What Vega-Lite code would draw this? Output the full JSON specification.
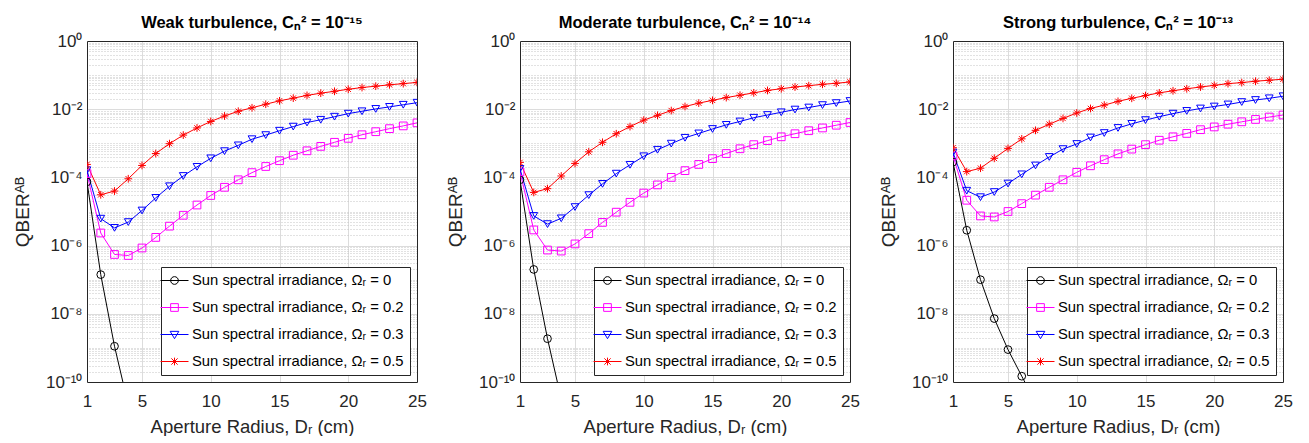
{
"$schema": "https://vega.github.io/schema/vega-lite/v6.json",
"padding": {"left": 13, "top": 14, "right": 5, "bottom": 0},
"bounds": "flush",
"spacing": 103,
"resolve": {"scale": {"color": "independent", "shape": "independent"}, "legend": {"color": "independent", "shape": "independent"}},
"config": {"font": "Liberation Sans", "view": {"stroke": null}, "axis": {"labelColor": "#262626", "titleColor": "#262626", "domainWidth": 1, "domainColor": "#262626"}},
"datasets": {"qber": [
{"panel":"Weak","omega":"0","x":1,"qber":7.41e-5},{"panel":"Weak","omega":"0","x":2,"qber":1.41e-7},{"panel":"Weak","omega":"0","x":3,"qber":1.12e-9},{"panel":"Weak","omega":"0","x":4,"qber":2.14e-11},
{"panel":"Weak","omega":"0.2","x":1,"qber":1.29e-4},{"panel":"Weak","omega":"0.2","x":2,"qber":2.34e-6},{"panel":"Weak","omega":"0.2","x":3,"qber":5.50e-7},{"panel":"Weak","omega":"0.2","x":4,"qber":5.13e-7},{"panel":"Weak","omega":"0.2","x":5,"qber":8.51e-7},{"panel":"Weak","omega":"0.2","x":6,"qber":1.74e-6},{"panel":"Weak","omega":"0.2","x":7,"qber":3.72e-6},{"panel":"Weak","omega":"0.2","x":8,"qber":7.76e-6},{"panel":"Weak","omega":"0.2","x":9,"qber":1.55e-5},{"panel":"Weak","omega":"0.2","x":10,"qber":2.95e-5},{"panel":"Weak","omega":"0.2","x":11,"qber":5.13e-5},{"panel":"Weak","omega":"0.2","x":12,"qber":8.51e-5},{"panel":"Weak","omega":"0.2","x":13,"qber":1.38e-4},{"panel":"Weak","omega":"0.2","x":14,"qber":2.09e-4},{"panel":"Weak","omega":"0.2","x":15,"qber":3.09e-4},{"panel":"Weak","omega":"0.2","x":16,"qber":4.47e-4},{"panel":"Weak","omega":"0.2","x":17,"qber":6.03e-4},{"panel":"Weak","omega":"0.2","x":18,"qber":8.13e-4},{"panel":"Weak","omega":"0.2","x":19,"qber":1.07e-3},{"panel":"Weak","omega":"0.2","x":20,"qber":1.40e-3},{"panel":"Weak","omega":"0.2","x":21,"qber":1.78e-3},{"panel":"Weak","omega":"0.2","x":22,"qber":2.19e-3},{"panel":"Weak","omega":"0.2","x":23,"qber":2.69e-3},{"panel":"Weak","omega":"0.2","x":24,"qber":3.24e-3},{"panel":"Weak","omega":"0.2","x":25,"qber":3.98e-3},
{"panel":"Weak","omega":"0.3","x":1,"qber":1.62e-4},{"panel":"Weak","omega":"0.3","x":2,"qber":6.17e-6},{"panel":"Weak","omega":"0.3","x":3,"qber":3.31e-6},{"panel":"Weak","omega":"0.3","x":4,"qber":4.90e-6},{"panel":"Weak","omega":"0.3","x":5,"qber":1.07e-5},{"panel":"Weak","omega":"0.3","x":6,"qber":2.51e-5},{"panel":"Weak","omega":"0.3","x":7,"qber":5.50e-5},{"panel":"Weak","omega":"0.3","x":8,"qber":1.10e-4},{"panel":"Weak","omega":"0.3","x":9,"qber":2.04e-4},{"panel":"Weak","omega":"0.3","x":10,"qber":3.63e-4},{"panel":"Weak","omega":"0.3","x":11,"qber":5.89e-4},{"panel":"Weak","omega":"0.3","x":12,"qber":8.71e-4},{"panel":"Weak","omega":"0.3","x":13,"qber":1.32e-3},{"panel":"Weak","omega":"0.3","x":14,"qber":1.74e-3},{"panel":"Weak","omega":"0.3","x":15,"qber":2.34e-3},{"panel":"Weak","omega":"0.3","x":16,"qber":3.09e-3},{"panel":"Weak","omega":"0.3","x":17,"qber":4.07e-3},{"panel":"Weak","omega":"0.3","x":18,"qber":4.90e-3},{"panel":"Weak","omega":"0.3","x":19,"qber":6.03e-3},{"panel":"Weak","omega":"0.3","x":20,"qber":7.41e-3},{"panel":"Weak","omega":"0.3","x":21,"qber":8.71e-3},{"panel":"Weak","omega":"0.3","x":22,"qber":1.02e-2},{"panel":"Weak","omega":"0.3","x":23,"qber":1.17e-2},{"panel":"Weak","omega":"0.3","x":24,"qber":1.35e-2},{"panel":"Weak","omega":"0.3","x":25,"qber":1.55e-2},
{"panel":"Weak","omega":"0.5","x":1,"qber":2.40e-4},{"panel":"Weak","omega":"0.5","x":2,"qber":3.09e-5},{"panel":"Weak","omega":"0.5","x":3,"qber":3.98e-5},{"panel":"Weak","omega":"0.5","x":4,"qber":9.12e-5},{"panel":"Weak","omega":"0.5","x":5,"qber":2.24e-4},{"panel":"Weak","omega":"0.5","x":6,"qber":5.01e-4},{"panel":"Weak","omega":"0.5","x":7,"qber":9.77e-4},{"panel":"Weak","omega":"0.5","x":8,"qber":1.74e-3},{"panel":"Weak","omega":"0.5","x":9,"qber":2.82e-3},{"panel":"Weak","omega":"0.5","x":10,"qber":4.37e-3},{"panel":"Weak","omega":"0.5","x":11,"qber":6.31e-3},{"panel":"Weak","omega":"0.5","x":12,"qber":8.71e-3},{"panel":"Weak","omega":"0.5","x":13,"qber":1.10e-2},{"panel":"Weak","omega":"0.5","x":14,"qber":1.40e-2},{"panel":"Weak","omega":"0.5","x":15,"qber":1.76e-2},{"panel":"Weak","omega":"0.5","x":16,"qber":2.11e-2},{"panel":"Weak","omega":"0.5","x":17,"qber":2.54e-2},{"panel":"Weak","omega":"0.5","x":18,"qber":2.95e-2},{"panel":"Weak","omega":"0.5","x":19,"qber":3.35e-2},{"panel":"Weak","omega":"0.5","x":20,"qber":3.85e-2},{"panel":"Weak","omega":"0.5","x":21,"qber":4.32e-2},{"panel":"Weak","omega":"0.5","x":22,"qber":4.73e-2},{"panel":"Weak","omega":"0.5","x":23,"qber":5.19e-2},{"panel":"Weak","omega":"0.5","x":24,"qber":5.62e-2},{"panel":"Weak","omega":"0.5","x":25,"qber":6.10e-2},
{"panel":"Moderate","omega":"0","x":1,"qber":8.51e-5},{"panel":"Moderate","omega":"0","x":2,"qber":2.00e-7},{"panel":"Moderate","omega":"0","x":3,"qber":1.86e-9},{"panel":"Moderate","omega":"0","x":4,"qber":3.16e-11},
{"panel":"Moderate","omega":"0.2","x":1,"qber":1.45e-4},{"panel":"Moderate","omega":"0.2","x":2,"qber":2.88e-6},{"panel":"Moderate","omega":"0.2","x":3,"qber":7.41e-7},{"panel":"Moderate","omega":"0.2","x":4,"qber":6.92e-7},{"panel":"Moderate","omega":"0.2","x":5,"qber":1.12e-6},{"panel":"Moderate","omega":"0.2","x":6,"qber":2.24e-6},{"panel":"Moderate","omega":"0.2","x":7,"qber":4.79e-6},{"panel":"Moderate","omega":"0.2","x":8,"qber":9.55e-6},{"panel":"Moderate","omega":"0.2","x":9,"qber":1.86e-5},{"panel":"Moderate","omega":"0.2","x":10,"qber":3.47e-5},{"panel":"Moderate","omega":"0.2","x":11,"qber":6.03e-5},{"panel":"Moderate","omega":"0.2","x":12,"qber":1.00e-4},{"panel":"Moderate","omega":"0.2","x":13,"qber":1.58e-4},{"panel":"Moderate","omega":"0.2","x":14,"qber":2.40e-4},{"panel":"Moderate","omega":"0.2","x":15,"qber":3.55e-4},{"panel":"Moderate","omega":"0.2","x":16,"qber":5.01e-4},{"panel":"Moderate","omega":"0.2","x":17,"qber":6.92e-4},{"panel":"Moderate","omega":"0.2","x":18,"qber":9.12e-4},{"panel":"Moderate","omega":"0.2","x":19,"qber":1.20e-3},{"panel":"Moderate","omega":"0.2","x":20,"qber":1.55e-3},{"panel":"Moderate","omega":"0.2","x":21,"qber":1.91e-3},{"panel":"Moderate","omega":"0.2","x":22,"qber":2.34e-3},{"panel":"Moderate","omega":"0.2","x":23,"qber":2.82e-3},{"panel":"Moderate","omega":"0.2","x":24,"qber":3.39e-3},{"panel":"Moderate","omega":"0.2","x":25,"qber":4.07e-3},
{"panel":"Moderate","omega":"0.3","x":1,"qber":1.78e-4},{"panel":"Moderate","omega":"0.3","x":2,"qber":7.41e-6},{"panel":"Moderate","omega":"0.3","x":3,"qber":4.27e-6},{"panel":"Moderate","omega":"0.3","x":4,"qber":6.31e-6},{"panel":"Moderate","omega":"0.3","x":5,"qber":1.35e-5},{"panel":"Moderate","omega":"0.3","x":6,"qber":3.02e-5},{"panel":"Moderate","omega":"0.3","x":7,"qber":6.46e-5},{"panel":"Moderate","omega":"0.3","x":8,"qber":1.29e-4},{"panel":"Moderate","omega":"0.3","x":9,"qber":2.34e-4},{"panel":"Moderate","omega":"0.3","x":10,"qber":4.17e-4},{"panel":"Moderate","omega":"0.3","x":11,"qber":6.46e-4},{"panel":"Moderate","omega":"0.3","x":12,"qber":9.77e-4},{"panel":"Moderate","omega":"0.3","x":13,"qber":1.45e-3},{"panel":"Moderate","omega":"0.3","x":14,"qber":1.95e-3},{"panel":"Moderate","omega":"0.3","x":15,"qber":2.63e-3},{"panel":"Moderate","omega":"0.3","x":16,"qber":3.47e-3},{"panel":"Moderate","omega":"0.3","x":17,"qber":4.37e-3},{"panel":"Moderate","omega":"0.3","x":18,"qber":5.62e-3},{"panel":"Moderate","omega":"0.3","x":19,"qber":6.76e-3},{"panel":"Moderate","omega":"0.3","x":20,"qber":8.13e-3},{"panel":"Moderate","omega":"0.3","x":21,"qber":9.77e-3},{"panel":"Moderate","omega":"0.3","x":22,"qber":1.12e-2},{"panel":"Moderate","omega":"0.3","x":23,"qber":1.32e-2},{"panel":"Moderate","omega":"0.3","x":24,"qber":1.51e-2},{"panel":"Moderate","omega":"0.3","x":25,"qber":1.74e-2},
{"panel":"Moderate","omega":"0.5","x":1,"qber":2.75e-4},{"panel":"Moderate","omega":"0.5","x":2,"qber":3.63e-5},{"panel":"Moderate","omega":"0.5","x":3,"qber":4.68e-5},{"panel":"Moderate","omega":"0.5","x":4,"qber":1.10e-4},{"panel":"Moderate","omega":"0.5","x":5,"qber":2.57e-4},{"panel":"Moderate","omega":"0.5","x":6,"qber":5.62e-4},{"panel":"Moderate","omega":"0.5","x":7,"qber":1.07e-3},{"panel":"Moderate","omega":"0.5","x":8,"qber":1.91e-3},{"panel":"Moderate","omega":"0.5","x":9,"qber":3.09e-3},{"panel":"Moderate","omega":"0.5","x":10,"qber":4.79e-3},{"panel":"Moderate","omega":"0.5","x":11,"qber":6.61e-3},{"panel":"Moderate","omega":"0.5","x":12,"qber":9.12e-3},{"panel":"Moderate","omega":"0.5","x":13,"qber":1.20e-2},{"panel":"Moderate","omega":"0.5","x":14,"qber":1.51e-2},{"panel":"Moderate","omega":"0.5","x":15,"qber":1.82e-2},{"panel":"Moderate","omega":"0.5","x":16,"qber":2.19e-2},{"panel":"Moderate","omega":"0.5","x":17,"qber":2.57e-2},{"panel":"Moderate","omega":"0.5","x":18,"qber":3.02e-2},{"panel":"Moderate","omega":"0.5","x":19,"qber":3.55e-2},{"panel":"Moderate","omega":"0.5","x":20,"qber":3.98e-2},{"panel":"Moderate","omega":"0.5","x":21,"qber":4.47e-2},{"panel":"Moderate","omega":"0.5","x":22,"qber":4.90e-2},{"panel":"Moderate","omega":"0.5","x":23,"qber":5.37e-2},{"panel":"Moderate","omega":"0.5","x":24,"qber":5.75e-2},{"panel":"Moderate","omega":"0.5","x":25,"qber":6.31e-2},
{"panel":"Strong","omega":"0","x":1,"qber":2.82e-4},{"panel":"Strong","omega":"0","x":2,"qber":2.82e-6},{"panel":"Strong","omega":"0","x":3,"qber":1.00e-7},{"panel":"Strong","omega":"0","x":4,"qber":7.24e-9},{"panel":"Strong","omega":"0","x":5,"qber":8.91e-10},{"panel":"Strong","omega":"0","x":6,"qber":1.48e-10},{"panel":"Strong","omega":"0","x":7,"qber":2.51e-11},
{"panel":"Strong","omega":"0.2","x":1,"qber":4.27e-4},{"panel":"Strong","omega":"0.2","x":2,"qber":2.14e-5},{"panel":"Strong","omega":"0.2","x":3,"qber":7.41e-6},{"panel":"Strong","omega":"0.2","x":4,"qber":6.92e-6},{"panel":"Strong","omega":"0.2","x":5,"qber":1.00e-5},{"panel":"Strong","omega":"0.2","x":6,"qber":1.70e-5},{"panel":"Strong","omega":"0.2","x":7,"qber":3.02e-5},{"panel":"Strong","omega":"0.2","x":8,"qber":5.13e-5},{"panel":"Strong","omega":"0.2","x":9,"qber":8.51e-5},{"panel":"Strong","omega":"0.2","x":10,"qber":1.41e-4},{"panel":"Strong","omega":"0.2","x":11,"qber":2.19e-4},{"panel":"Strong","omega":"0.2","x":12,"qber":3.31e-4},{"panel":"Strong","omega":"0.2","x":13,"qber":4.90e-4},{"panel":"Strong","omega":"0.2","x":14,"qber":6.76e-4},{"panel":"Strong","omega":"0.2","x":15,"qber":9.12e-4},{"panel":"Strong","omega":"0.2","x":16,"qber":1.23e-3},{"panel":"Strong","omega":"0.2","x":17,"qber":1.55e-3},{"panel":"Strong","omega":"0.2","x":18,"qber":1.95e-3},{"panel":"Strong","omega":"0.2","x":19,"qber":2.51e-3},{"panel":"Strong","omega":"0.2","x":20,"qber":3.02e-3},{"panel":"Strong","omega":"0.2","x":21,"qber":3.63e-3},{"panel":"Strong","omega":"0.2","x":22,"qber":4.27e-3},{"panel":"Strong","omega":"0.2","x":23,"qber":5.01e-3},{"panel":"Strong","omega":"0.2","x":24,"qber":5.89e-3},{"panel":"Strong","omega":"0.2","x":25,"qber":6.76e-3},
{"panel":"Strong","omega":"0.3","x":1,"qber":5.37e-4},{"panel":"Strong","omega":"0.3","x":2,"qber":4.07e-5},{"panel":"Strong","omega":"0.3","x":3,"qber":2.63e-5},{"panel":"Strong","omega":"0.3","x":4,"qber":3.72e-5},{"panel":"Strong","omega":"0.3","x":5,"qber":6.61e-5},{"panel":"Strong","omega":"0.3","x":6,"qber":1.23e-4},{"panel":"Strong","omega":"0.3","x":7,"qber":2.24e-4},{"panel":"Strong","omega":"0.3","x":8,"qber":3.98e-4},{"panel":"Strong","omega":"0.3","x":9,"qber":6.76e-4},{"panel":"Strong","omega":"0.3","x":10,"qber":9.55e-4},{"panel":"Strong","omega":"0.3","x":11,"qber":1.48e-3},{"panel":"Strong","omega":"0.3","x":12,"qber":2.00e-3},{"panel":"Strong","omega":"0.3","x":13,"qber":2.82e-3},{"panel":"Strong","omega":"0.3","x":14,"qber":3.72e-3},{"panel":"Strong","omega":"0.3","x":15,"qber":4.79e-3},{"panel":"Strong","omega":"0.3","x":16,"qber":6.03e-3},{"panel":"Strong","omega":"0.3","x":17,"qber":7.41e-3},{"panel":"Strong","omega":"0.3","x":18,"qber":8.91e-3},{"panel":"Strong","omega":"0.3","x":19,"qber":1.05e-2},{"panel":"Strong","omega":"0.3","x":20,"qber":1.20e-2},{"panel":"Strong","omega":"0.3","x":21,"qber":1.38e-2},{"panel":"Strong","omega":"0.3","x":22,"qber":1.62e-2},{"panel":"Strong","omega":"0.3","x":23,"qber":1.86e-2},{"panel":"Strong","omega":"0.3","x":24,"qber":2.09e-2},{"panel":"Strong","omega":"0.3","x":25,"qber":2.40e-2},
{"panel":"Strong","omega":"0.5","x":1,"qber":7.41e-4},{"panel":"Strong","omega":"0.5","x":2,"qber":1.48e-4},{"panel":"Strong","omega":"0.5","x":3,"qber":1.86e-4},{"panel":"Strong","omega":"0.5","x":4,"qber":3.63e-4},{"panel":"Strong","omega":"0.5","x":5,"qber":7.08e-4},{"panel":"Strong","omega":"0.5","x":6,"qber":1.35e-3},{"panel":"Strong","omega":"0.5","x":7,"qber":2.40e-3},{"panel":"Strong","omega":"0.5","x":8,"qber":3.63e-3},{"panel":"Strong","omega":"0.5","x":9,"qber":5.37e-3},{"panel":"Strong","omega":"0.5","x":10,"qber":7.76e-3},{"panel":"Strong","omega":"0.5","x":11,"qber":1.05e-2},{"panel":"Strong","omega":"0.5","x":12,"qber":1.32e-2},{"panel":"Strong","omega":"0.5","x":13,"qber":1.70e-2},{"panel":"Strong","omega":"0.5","x":14,"qber":2.09e-2},{"panel":"Strong","omega":"0.5","x":15,"qber":2.51e-2},{"panel":"Strong","omega":"0.5","x":16,"qber":3.02e-2},{"panel":"Strong","omega":"0.5","x":17,"qber":3.47e-2},{"panel":"Strong","omega":"0.5","x":18,"qber":3.98e-2},{"panel":"Strong","omega":"0.5","x":19,"qber":4.47e-2},{"panel":"Strong","omega":"0.5","x":20,"qber":5.01e-2},{"panel":"Strong","omega":"0.5","x":21,"qber":5.62e-2},{"panel":"Strong","omega":"0.5","x":22,"qber":6.03e-2},{"panel":"Strong","omega":"0.5","x":23,"qber":6.61e-2},{"panel":"Strong","omega":"0.5","x":24,"qber":7.08e-2},{"panel":"Strong","omega":"0.5","x":25,"qber":7.59e-2}
]},
"hconcat": [
{"width": 330, "height": 341, "data": {"name": "qber"}, "transform": [{"filter": "datum.panel === 'Weak'"}],
 "title": {"text": "Weak turbulence, Cₙ² = 10⁻¹⁵", "fontSize": 16.5, "fontWeight": "bold", "color": "black", "anchor": "middle", "baseline": "alphabetic", "offset": 14, "dy": 26, "frame": "group"},
 "layer": [
  {"mark": {"type": "line", "clip": true, "strokeWidth": 1},
   "encoding": {
    "x": {"field": "x", "type": "quantitative", "scale": {"domain": [1, 25], "nice": false, "zero": false}, "axis": {"values": [1, 5, 10, 15, 20, 25], "title": "Aperture Radius, Dᵣ (cm)", "grid": false, "ticks": false, "labelFlush": false, "labelFontSize": 17, "labelPadding": 11, "titleFontSize": 18.5, "titleFontWeight": "normal", "titleBaseline": "alphabetic", "titleY": 50}},
    "y": {"field": "qber", "type": "quantitative", "scale": {"type": "log", "domain": [1e-10, 1], "nice": false}, "axis": {"values": [1, 0.01, 0.0001, 0.000001, 0.00000001, 1e-10], "labelExpr": "datum.value === 1 ? '10⁰' : datum.value === 0.01 ? '10⁻²' : datum.value === 0.0001 ? '10⁻⁴' : datum.value === 0.000001 ? '10⁻⁶' : datum.value === 0.00000001 ? '10⁻⁸' : '10⁻¹⁰'", "title": "QBERᴬᴮ", "grid": false, "ticks": false, "labelFontSize": 17, "labelPadding": 5, "titleFontSize": 19, "titleFontWeight": "normal", "titleBaseline": "alphabetic", "titleX": -59}},
    "color": {"field": "omega", "type": "nominal", "scale": {"domain": ["0", "0.2", "0.3", "0.5"], "range": ["#000000", "#ff00ff", "#0000ff", "#ff0000"]}, "legend": null}
   }},
  {"mark": {"type": "point", "clip": true, "filled": false, "size": 60, "opacity": 1},
   "encoding": {
    "x": {"field": "x", "type": "quantitative", "scale": {"domain": [1, 25], "nice": false, "zero": false}, "axis": {"orient": "top", "values": [5, 10, 15, 20], "labels": false, "ticks": false, "title": null, "grid": true, "gridColor": "#dcdcdc"}},
    "y": {"field": "qber", "type": "quantitative", "scale": {"type": "log", "domain": [1e-10, 1], "nice": false}, "axis": {"orient": "right", "values": [2e-10,3e-10,4e-10,5e-10,6e-10,7e-10,8e-10,9e-10,1e-9,2e-9,3e-9,4e-9,5e-9,6e-9,7e-9,8e-9,9e-9,1e-8,2e-8,3e-8,4e-8,5e-8,6e-8,7e-8,8e-8,9e-8,1e-7,2e-7,3e-7,4e-7,5e-7,6e-7,7e-7,8e-7,9e-7,1e-6,2e-6,3e-6,4e-6,5e-6,6e-6,7e-6,8e-6,9e-6,1e-5,2e-5,3e-5,4e-5,5e-5,6e-5,7e-5,8e-5,9e-5,1e-4,2e-4,3e-4,4e-4,5e-4,6e-4,7e-4,8e-4,9e-4,1e-3,2e-3,3e-3,4e-3,5e-3,6e-3,7e-3,8e-3,9e-3,1e-2,2e-2,3e-2,4e-2,5e-2,6e-2,7e-2,8e-2,9e-2,1e-1,2e-1,3e-1,4e-1,5e-1,6e-1,7e-1,8e-1,9e-1], "labels": false, "ticks": false, "title": null, "grid": true, "gridColor": {"condition": {"test": "indexof([0.01, 0.0001, 0.000001, 0.00000001], datum.value) >= 0", "value": "#dcdcdc"}, "value": "#c4c4c4"}, "gridDash": {"condition": {"test": "indexof([0.01, 0.0001, 0.000001, 0.00000001], datum.value) >= 0", "value": []}, "value": [1, 2]}}},
    "color": {"field": "omega", "type": "nominal", "scale": {"domain": ["0", "0.2", "0.3", "0.5"], "range": ["#000000", "#ff00ff", "#0000ff", "#ff0000"]}, "legend": null},
    "shape": {"field": "omega", "type": "nominal", "scale": {"domain": ["0", "0.2", "0.3", "0.5"], "range": ["circle", "square", "triangle-down", "M-1,0H1M0,-1V1M-0.7,-0.7L0.7,0.7M-0.7,0.7L0.7,-0.7"]}, "legend": null},
    "strokeWidth": {"field": "omega", "type": "nominal", "scale": {"domain": ["0", "0.2", "0.3", "0.5"], "range": [1, 1, 1, 1.6]}, "legend": null}
   }},
  {"transform": [{"filter": "datum.x === 1"}],
   "mark": {"type": "point", "filled": false, "size": 196, "strokeWidth": 1, "opacity": 0},
   "encoding": {
    "color": {"field": "omega", "type": "nominal", "scale": {"domain": ["0", "0.2", "0.3", "0.5"], "range": ["#000000", "#ff00ff", "#0000ff", "#ff0000"]}, "legend": {"title": null, "orient": "bottom-right", "offset": 7, "padding": 6, "strokeColor": "#262626", "fillColor": "white", "labelFontSize": 14.8, "labelColor": "black", "labelLimit": 400, "symbolSize": 196, "symbolStrokeWidth": 1, "symbolOpacity": 1, "rowPadding": 11, "labelOffset": 10, "labelExpr": "'Sun spectral irradiance, Ωᵣ = ' + datum.label"}},
    "shape": {"field": "omega", "type": "nominal", "scale": {"domain": ["0", "0.2", "0.3", "0.5"], "range": ["M-2,0H2M0.55,0A0.55,0.55,0,1,1,-0.55,0A0.55,0.55,0,1,1,0.55,0", "M-2,0H2M-0.55,-0.55H0.55V0.55H-0.55Z", "M-2,0H2M-0.62,-0.45H0.62L0,0.6Z", "M-2,0H2M0,-0.55V0.55M-0.45,-0.45L0.45,0.45M-0.45,0.45L0.45,-0.45"]}, "legend": {"title": null, "orient": "bottom-right", "offset": 7, "padding": 6, "strokeColor": "#262626", "fillColor": "white", "labelFontSize": 14.8, "labelColor": "black", "labelLimit": 400, "symbolSize": 196, "symbolStrokeWidth": 1, "symbolOpacity": 1, "rowPadding": 11, "labelOffset": 10, "labelExpr": "'Sun spectral irradiance, Ωᵣ = ' + datum.label"}}
   }}
 ],
 "resolve": {"scale": {"color": "independent", "shape": "independent"}, "axis": {"x": "independent", "y": "independent"}}
},
{"width": 330, "height": 341, "data": {"name": "qber"}, "transform": [{"filter": "datum.panel === 'Moderate'"}],
 "title": {"text": "Moderate turbulence, Cₙ² = 10⁻¹⁴", "fontSize": 16.5, "fontWeight": "bold", "color": "black", "anchor": "middle", "baseline": "alphabetic", "offset": 14, "dy": 26, "frame": "group"},
 "layer": [
  {"mark": {"type": "line", "clip": true, "strokeWidth": 1},
   "encoding": {
    "x": {"field": "x", "type": "quantitative", "scale": {"domain": [1, 25], "nice": false, "zero": false}, "axis": {"values": [1, 5, 10, 15, 20, 25], "title": "Aperture Radius, Dᵣ (cm)", "grid": false, "ticks": false, "labelFlush": false, "labelFontSize": 17, "labelPadding": 11, "titleFontSize": 18.5, "titleFontWeight": "normal", "titleBaseline": "alphabetic", "titleY": 50}},
    "y": {"field": "qber", "type": "quantitative", "scale": {"type": "log", "domain": [1e-10, 1], "nice": false}, "axis": {"values": [1, 0.01, 0.0001, 0.000001, 0.00000001, 1e-10], "labelExpr": "datum.value === 1 ? '10⁰' : datum.value === 0.01 ? '10⁻²' : datum.value === 0.0001 ? '10⁻⁴' : datum.value === 0.000001 ? '10⁻⁶' : datum.value === 0.00000001 ? '10⁻⁸' : '10⁻¹⁰'", "title": "QBERᴬᴮ", "grid": false, "ticks": false, "labelFontSize": 17, "labelPadding": 5, "titleFontSize": 19, "titleFontWeight": "normal", "titleBaseline": "alphabetic", "titleX": -59}},
    "color": {"field": "omega", "type": "nominal", "scale": {"domain": ["0", "0.2", "0.3", "0.5"], "range": ["#000000", "#ff00ff", "#0000ff", "#ff0000"]}, "legend": null}
   }},
  {"mark": {"type": "point", "clip": true, "filled": false, "size": 60, "opacity": 1},
   "encoding": {
    "x": {"field": "x", "type": "quantitative", "scale": {"domain": [1, 25], "nice": false, "zero": false}, "axis": {"orient": "top", "values": [5, 10, 15, 20], "labels": false, "ticks": false, "title": null, "grid": true, "gridColor": "#dcdcdc"}},
    "y": {"field": "qber", "type": "quantitative", "scale": {"type": "log", "domain": [1e-10, 1], "nice": false}, "axis": {"orient": "right", "values": [2e-10,3e-10,4e-10,5e-10,6e-10,7e-10,8e-10,9e-10,1e-9,2e-9,3e-9,4e-9,5e-9,6e-9,7e-9,8e-9,9e-9,1e-8,2e-8,3e-8,4e-8,5e-8,6e-8,7e-8,8e-8,9e-8,1e-7,2e-7,3e-7,4e-7,5e-7,6e-7,7e-7,8e-7,9e-7,1e-6,2e-6,3e-6,4e-6,5e-6,6e-6,7e-6,8e-6,9e-6,1e-5,2e-5,3e-5,4e-5,5e-5,6e-5,7e-5,8e-5,9e-5,1e-4,2e-4,3e-4,4e-4,5e-4,6e-4,7e-4,8e-4,9e-4,1e-3,2e-3,3e-3,4e-3,5e-3,6e-3,7e-3,8e-3,9e-3,1e-2,2e-2,3e-2,4e-2,5e-2,6e-2,7e-2,8e-2,9e-2,1e-1,2e-1,3e-1,4e-1,5e-1,6e-1,7e-1,8e-1,9e-1], "labels": false, "ticks": false, "title": null, "grid": true, "gridColor": {"condition": {"test": "indexof([0.01, 0.0001, 0.000001, 0.00000001], datum.value) >= 0", "value": "#dcdcdc"}, "value": "#c4c4c4"}, "gridDash": {"condition": {"test": "indexof([0.01, 0.0001, 0.000001, 0.00000001], datum.value) >= 0", "value": []}, "value": [1, 2]}}},
    "color": {"field": "omega", "type": "nominal", "scale": {"domain": ["0", "0.2", "0.3", "0.5"], "range": ["#000000", "#ff00ff", "#0000ff", "#ff0000"]}, "legend": null},
    "shape": {"field": "omega", "type": "nominal", "scale": {"domain": ["0", "0.2", "0.3", "0.5"], "range": ["circle", "square", "triangle-down", "M-1,0H1M0,-1V1M-0.7,-0.7L0.7,0.7M-0.7,0.7L0.7,-0.7"]}, "legend": null},
    "strokeWidth": {"field": "omega", "type": "nominal", "scale": {"domain": ["0", "0.2", "0.3", "0.5"], "range": [1, 1, 1, 1.6]}, "legend": null}
   }},
  {"transform": [{"filter": "datum.x === 1"}],
   "mark": {"type": "point", "filled": false, "size": 196, "strokeWidth": 1, "opacity": 0},
   "encoding": {
    "color": {"field": "omega", "type": "nominal", "scale": {"domain": ["0", "0.2", "0.3", "0.5"], "range": ["#000000", "#ff00ff", "#0000ff", "#ff0000"]}, "legend": {"title": null, "orient": "bottom-right", "offset": 7, "padding": 6, "strokeColor": "#262626", "fillColor": "white", "labelFontSize": 14.8, "labelColor": "black", "labelLimit": 400, "symbolSize": 196, "symbolStrokeWidth": 1, "symbolOpacity": 1, "rowPadding": 11, "labelOffset": 10, "labelExpr": "'Sun spectral irradiance, Ωᵣ = ' + datum.label"}},
    "shape": {"field": "omega", "type": "nominal", "scale": {"domain": ["0", "0.2", "0.3", "0.5"], "range": ["M-2,0H2M0.55,0A0.55,0.55,0,1,1,-0.55,0A0.55,0.55,0,1,1,0.55,0", "M-2,0H2M-0.55,-0.55H0.55V0.55H-0.55Z", "M-2,0H2M-0.62,-0.45H0.62L0,0.6Z", "M-2,0H2M0,-0.55V0.55M-0.45,-0.45L0.45,0.45M-0.45,0.45L0.45,-0.45"]}, "legend": {"title": null, "orient": "bottom-right", "offset": 7, "padding": 6, "strokeColor": "#262626", "fillColor": "white", "labelFontSize": 14.8, "labelColor": "black", "labelLimit": 400, "symbolSize": 196, "symbolStrokeWidth": 1, "symbolOpacity": 1, "rowPadding": 11, "labelOffset": 10, "labelExpr": "'Sun spectral irradiance, Ωᵣ = ' + datum.label"}}
   }}
 ],
 "resolve": {"scale": {"color": "independent", "shape": "independent"}, "axis": {"x": "independent", "y": "independent"}}
},
{"width": 330, "height": 341, "data": {"name": "qber"}, "transform": [{"filter": "datum.panel === 'Strong'"}],
 "title": {"text": "Strong turbulence, Cₙ² = 10⁻¹³", "fontSize": 16.5, "fontWeight": "bold", "color": "black", "anchor": "middle", "baseline": "alphabetic", "offset": 14, "dy": 26, "frame": "group"},
 "layer": [
  {"mark": {"type": "line", "clip": true, "strokeWidth": 1},
   "encoding": {
    "x": {"field": "x", "type": "quantitative", "scale": {"domain": [1, 25], "nice": false, "zero": false}, "axis": {"values": [1, 5, 10, 15, 20, 25], "title": "Aperture Radius, Dᵣ (cm)", "grid": false, "ticks": false, "labelFlush": false, "labelFontSize": 17, "labelPadding": 11, "titleFontSize": 18.5, "titleFontWeight": "normal", "titleBaseline": "alphabetic", "titleY": 50}},
    "y": {"field": "qber", "type": "quantitative", "scale": {"type": "log", "domain": [1e-10, 1], "nice": false}, "axis": {"values": [1, 0.01, 0.0001, 0.000001, 0.00000001, 1e-10], "labelExpr": "datum.value === 1 ? '10⁰' : datum.value === 0.01 ? '10⁻²' : datum.value === 0.0001 ? '10⁻⁴' : datum.value === 0.000001 ? '10⁻⁶' : datum.value === 0.00000001 ? '10⁻⁸' : '10⁻¹⁰'", "title": "QBERᴬᴮ", "grid": false, "ticks": false, "labelFontSize": 17, "labelPadding": 5, "titleFontSize": 19, "titleFontWeight": "normal", "titleBaseline": "alphabetic", "titleX": -59}},
    "color": {"field": "omega", "type": "nominal", "scale": {"domain": ["0", "0.2", "0.3", "0.5"], "range": ["#000000", "#ff00ff", "#0000ff", "#ff0000"]}, "legend": null}
   }},
  {"mark": {"type": "point", "clip": true, "filled": false, "size": 60, "opacity": 1},
   "encoding": {
    "x": {"field": "x", "type": "quantitative", "scale": {"domain": [1, 25], "nice": false, "zero": false}, "axis": {"orient": "top", "values": [5, 10, 15, 20], "labels": false, "ticks": false, "title": null, "grid": true, "gridColor": "#dcdcdc"}},
    "y": {"field": "qber", "type": "quantitative", "scale": {"type": "log", "domain": [1e-10, 1], "nice": false}, "axis": {"orient": "right", "values": [2e-10,3e-10,4e-10,5e-10,6e-10,7e-10,8e-10,9e-10,1e-9,2e-9,3e-9,4e-9,5e-9,6e-9,7e-9,8e-9,9e-9,1e-8,2e-8,3e-8,4e-8,5e-8,6e-8,7e-8,8e-8,9e-8,1e-7,2e-7,3e-7,4e-7,5e-7,6e-7,7e-7,8e-7,9e-7,1e-6,2e-6,3e-6,4e-6,5e-6,6e-6,7e-6,8e-6,9e-6,1e-5,2e-5,3e-5,4e-5,5e-5,6e-5,7e-5,8e-5,9e-5,1e-4,2e-4,3e-4,4e-4,5e-4,6e-4,7e-4,8e-4,9e-4,1e-3,2e-3,3e-3,4e-3,5e-3,6e-3,7e-3,8e-3,9e-3,1e-2,2e-2,3e-2,4e-2,5e-2,6e-2,7e-2,8e-2,9e-2,1e-1,2e-1,3e-1,4e-1,5e-1,6e-1,7e-1,8e-1,9e-1], "labels": false, "ticks": false, "title": null, "grid": true, "gridColor": {"condition": {"test": "indexof([0.01, 0.0001, 0.000001, 0.00000001], datum.value) >= 0", "value": "#dcdcdc"}, "value": "#c4c4c4"}, "gridDash": {"condition": {"test": "indexof([0.01, 0.0001, 0.000001, 0.00000001], datum.value) >= 0", "value": []}, "value": [1, 2]}}},
    "color": {"field": "omega", "type": "nominal", "scale": {"domain": ["0", "0.2", "0.3", "0.5"], "range": ["#000000", "#ff00ff", "#0000ff", "#ff0000"]}, "legend": null},
    "shape": {"field": "omega", "type": "nominal", "scale": {"domain": ["0", "0.2", "0.3", "0.5"], "range": ["circle", "square", "triangle-down", "M-1,0H1M0,-1V1M-0.7,-0.7L0.7,0.7M-0.7,0.7L0.7,-0.7"]}, "legend": null},
    "strokeWidth": {"field": "omega", "type": "nominal", "scale": {"domain": ["0", "0.2", "0.3", "0.5"], "range": [1, 1, 1, 1.6]}, "legend": null}
   }},
  {"transform": [{"filter": "datum.x === 1"}],
   "mark": {"type": "point", "filled": false, "size": 196, "strokeWidth": 1, "opacity": 0},
   "encoding": {
    "color": {"field": "omega", "type": "nominal", "scale": {"domain": ["0", "0.2", "0.3", "0.5"], "range": ["#000000", "#ff00ff", "#0000ff", "#ff0000"]}, "legend": {"title": null, "orient": "bottom-right", "offset": 7, "padding": 6, "strokeColor": "#262626", "fillColor": "white", "labelFontSize": 14.8, "labelColor": "black", "labelLimit": 400, "symbolSize": 196, "symbolStrokeWidth": 1, "symbolOpacity": 1, "rowPadding": 11, "labelOffset": 10, "labelExpr": "'Sun spectral irradiance, Ωᵣ = ' + datum.label"}},
    "shape": {"field": "omega", "type": "nominal", "scale": {"domain": ["0", "0.2", "0.3", "0.5"], "range": ["M-2,0H2M0.55,0A0.55,0.55,0,1,1,-0.55,0A0.55,0.55,0,1,1,0.55,0", "M-2,0H2M-0.55,-0.55H0.55V0.55H-0.55Z", "M-2,0H2M-0.62,-0.45H0.62L0,0.6Z", "M-2,0H2M0,-0.55V0.55M-0.45,-0.45L0.45,0.45M-0.45,0.45L0.45,-0.45"]}, "legend": {"title": null, "orient": "bottom-right", "offset": 7, "padding": 6, "strokeColor": "#262626", "fillColor": "white", "labelFontSize": 14.8, "labelColor": "black", "labelLimit": 400, "symbolSize": 196, "symbolStrokeWidth": 1, "symbolOpacity": 1, "rowPadding": 11, "labelOffset": 10, "labelExpr": "'Sun spectral irradiance, Ωᵣ = ' + datum.label"}}
   }}
 ],
 "resolve": {"scale": {"color": "independent", "shape": "independent"}, "axis": {"x": "independent", "y": "independent"}}
}
]
}
